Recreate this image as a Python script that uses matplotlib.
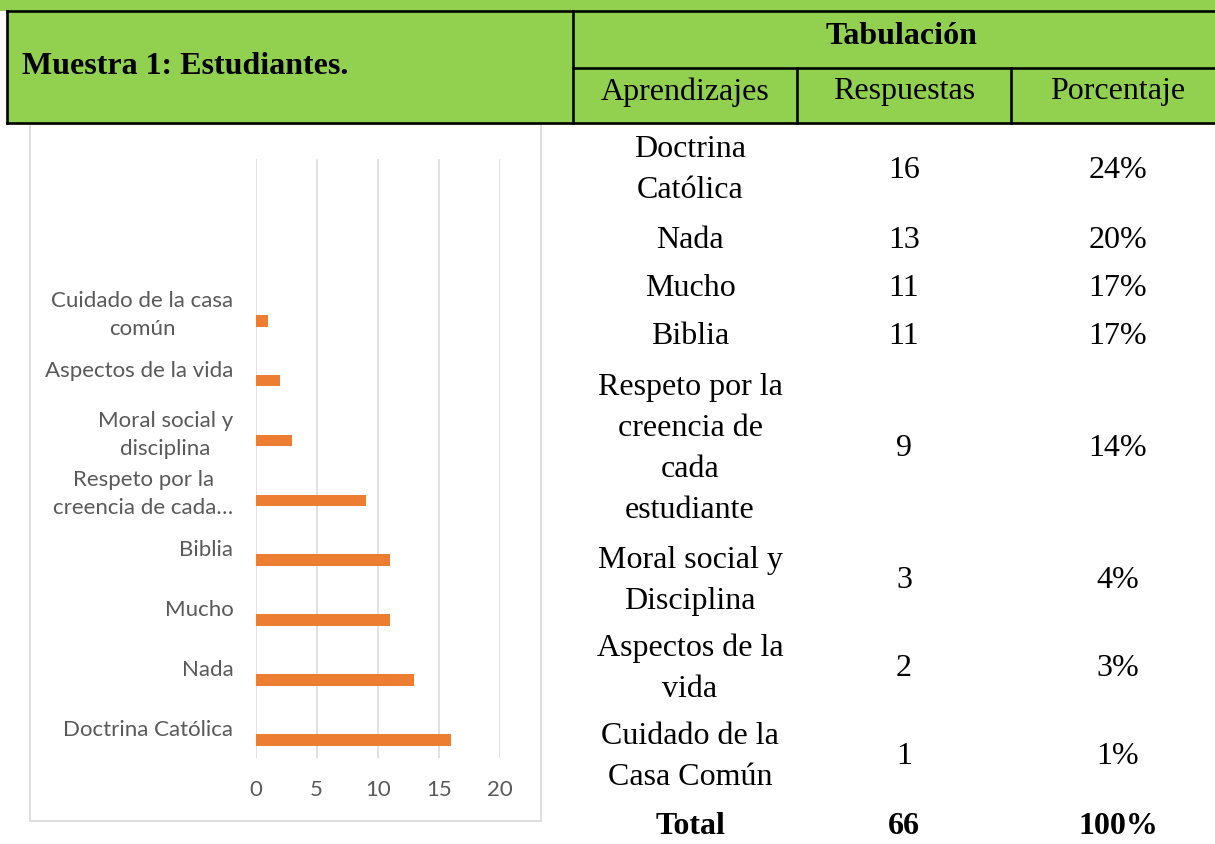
import matplotlib.pyplot as plt
from matplotlib.patches import Rectangle
from matplotlib.lines import Line2D

ANCHO, ALTO = 1215, 844

# Datos del grafico de barras (de abajo hacia arriba)
categorias = ["Doctrina Católica", "Nada", "Mucho", "Biblia",
              "Respeto por la\ncreencia de cada…", "Moral social y\ndisciplina",
              "Aspectos de la vida", "Cuidado de la casa\ncomún"]
valores = [16, 13, 11, 11, 9, 3, 2, 1]
ticks_x = [0, 5, 10, 15, 20]

# Datos de la tabla
tabla_aprendizajes = ["Doctrina\nCatólica", "Nada", "Mucho", "Biblia",
                      "Respeto por la\ncreencia de\ncada\nestudiante",
                      "Moral social y\nDisciplina", "Aspectos de la\nvida",
                      "Cuidado de la\nCasa Común"]
tabla_respuestas = ["16", "13", "11", "11", "9", "3", "2", "1"]
tabla_porcentajes = ["24%", "20%", "17%", "17%", "14%", "4%", "3%", "1%"]
fila_total = ["Total", "66", "100%"]
encabezados = ["Aprendizajes", "Respuestas", "Porcentaje"]

# Posiciones (pixeles) de filas y columnas de la tabla
filas_y = [166, 236, 284, 332, 445, 577, 665, 753]
total_y = 823
columnas_x = [690, 904, 1118]

VERDE = '#92D050'
NARANJA = '#ED7D31'
GRIS_TEXTO = '#595959'
GRIS_LINEA = '#D9D9D9'
SERIF = 'Liberation Serif'
DY = 4  # ajuste vertical del texto


def fx(px):
    return px / ANCHO


def fy(py):
    return 1 - py / ALTO


fig = plt.figure(figsize=(12.15, 8.44), dpi=100)

# --- Encabezado verde ---
fig.add_artist(Rectangle((0, fy(11)), 1, 11 / ALTO, transform=fig.transFigure,
                         facecolor=VERDE, edgecolor='none'))
fig.add_artist(Rectangle((fx(7), fy(123)), 1 - fx(7), 112 / ALTO,
                         transform=fig.transFigure, facecolor=VERDE, edgecolor='none'))

def linea(x0, y0, x1, y1):
    fig.add_artist(Line2D([fx(x0), fx(x1)], [fy(y0), fy(y1)], color='black',
                          lw=1.9, transform=fig.transFigure, solid_capstyle='projecting'))

linea(7, 11, ANCHO, 11)
linea(7, 123, ANCHO, 123)
linea(7, 11, 7, 123)
linea(573, 11, 573, 123)
linea(573, 68, ANCHO, 68)
linea(797, 68, 797, 123)
linea(1011, 68, 1011, 123)

fig.text(fx(22), fy(62 + DY), "Muestra 1: Estudiantes.", ha='left', va='center',
         fontsize=23, fontweight='bold', family=SERIF)
fig.text(fx(901), fy(32 + DY), "Tabulación", ha='center', va='center',
         fontsize=23, fontweight='bold', family=SERIF)
for texto, x in zip(encabezados, columnas_x):
    fig.text(fx(x if texto != "Aprendizajes" else 685), fy(88 + DY), texto,
             ha='center', va='center', fontsize=23, family=SERIF)

# --- Cuerpo de la tabla ---
for aprend, resp, porc, y in zip(tabla_aprendizajes, tabla_respuestas,
                                 tabla_porcentajes, filas_y):
    for texto, x in zip([aprend, resp, porc], columnas_x):
        fig.text(fx(x), fy(y + DY), texto, ha='center', va='center', fontsize=23,
                 family=SERIF, linespacing=1.55)
for texto, x in zip(fila_total, columnas_x):
    fig.text(fx(x), fy(total_y + DY), texto, ha='center', va='center', fontsize=23,
             fontweight='bold', family=SERIF)

# --- Grafico de barras ---
fig.add_artist(Rectangle((fx(30), fy(821)), fx(541) - fx(30), (821 - 124) / ALTO,
                         transform=fig.transFigure, fill=False,
                         edgecolor=GRIS_LINEA, lw=1.2))

ax = fig.add_axes([fx(255.5), fy(758), fx(500) - fx(255.5), (758 - 159) / ALTO])
posiciones = list(range(len(categorias)))
ax.barh([p - 0.2 for p in posiciones], valores, height=0.195, color=NARANJA, zorder=3)
ax.set_xlim(0, 20)
ax.set_ylim(-0.5, 9.5)
ax.set_xticks(ticks_x)
ax.set_yticks(posiciones)
ax.set_yticklabels(categorias)
ax.grid(axis='x', color=GRIS_LINEA, lw=1.1, zorder=0)
ax.grid(axis='y', visible=False)
for s in ax.spines.values():
    s.set_visible(False)
ax.tick_params(axis='y', length=0, pad=16, labelsize=16, labelcolor=GRIS_TEXTO)
ax.tick_params(axis='x', length=0, pad=16, labelsize=16, labelcolor=GRIS_TEXTO)
for etiqueta in ax.get_yticklabels() + ax.get_xticklabels():
    etiqueta.set_family('Lato')
for etiqueta in ax.get_yticklabels():
    etiqueta.set_multialignment('center')
    etiqueta.set_linespacing(1.5)
ax.patch.set_alpha(0)

fig.savefig('out.png', dpi=100)
